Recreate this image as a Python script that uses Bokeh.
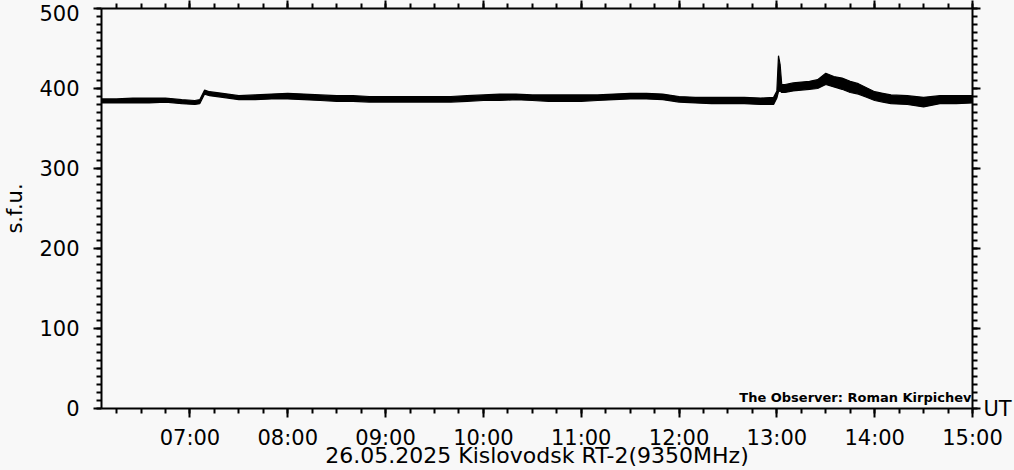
import pandas as pd
from bokeh.plotting import figure
from bokeh.models import (Range1d, FixedTicker, DatetimeTickFormatter, LinearAxis,
                          DatetimeAxis, Label, ColumnDataSource, GlobalInlineStyleSheet)
from bokeh.embed import file_html
from bokeh.resources import INLINE

DATE = "2025-05-26"
TITLE = "26.05.2025 Kislovodsk RT-2(9350MHz)"
Y_LABEL = "s.f.u."
X_UNIT = "UT"
OBSERVER = "The Observer: Roman Kirpichev"

# time (UT) and the lower / upper envelope of the noisy flux band (s.f.u.)
times = ["06:05", "06:15", "06:25", "06:35", "06:45", "06:55", "07:03", "07:06",
         "07:09", "07:12", "07:20", "07:30", "07:40", "07:50", "08:00", "08:10",
         "08:20", "08:30", "08:40", "08:50", "09:00", "09:10", "09:20", "09:30",
         "09:40", "09:50", "10:00", "10:10", "10:20", "10:30", "10:40", "10:50",
         "11:00", "11:10", "11:20", "11:30", "11:40", "11:50", "12:00", "12:10",
         "12:20", "12:30", "12:40", "12:50", "12:58", "13:00", "13:01", "13:02",
         "13:03", "13:05", "13:10", "13:20", "13:25", "13:30", "13:35", "13:40",
         "13:45", "13:50", "13:55", "14:00", "14:05", "14:10", "14:20", "14:30",
         "14:40", "14:50", "15:00"]
flux_lo = [382, 382, 382, 382, 383, 381, 380, 381,
           393, 391, 389, 386, 386, 387, 387, 386,
           385, 384, 384, 383, 383, 383, 383, 383,
           383, 384, 385, 385, 386, 385, 384, 384,
           384, 385, 386, 387, 387, 386, 383, 382,
           381, 381, 381, 380, 380, 388, 396, 397,
           395, 395, 397, 399, 400, 405, 402, 399,
           395, 393, 389, 385, 383, 381, 380, 377,
           381, 381, 382]
flux_hi = [387, 387, 388, 388, 388, 386, 385, 386,
           398, 396, 394, 391, 392, 393, 394, 393,
           392, 391, 391, 390, 390, 390, 390, 390,
           390, 391, 392, 393, 393, 392, 392, 392,
           392, 392, 393, 394, 394, 393, 390, 389,
           389, 389, 389, 388, 389, 397, 441, 430,
           405, 405, 407, 409, 411, 419, 415, 413,
           409, 406, 401, 396, 394, 392, 391, 389,
           391, 391, 391]

x_major_labels = ["07:00", "08:00", "09:00", "10:00", "11:00", "12:00", "13:00", "14:00", "15:00"]
y_major = [0, 100, 200, 300, 400, 500]

def ms(hm):
    return pd.Timestamp(f"{DATE} {hm}").value / 1e6

t = pd.to_datetime([f"{DATE} {s}" for s in times])
src = ColumnDataSource(dict(t=t, lo=flux_lo, hi=flux_hi))

x_start = ms("06:05:45")
x_end = ms("15:00:00")

x_major = [ms(s) for s in x_major_labels]
x_minor = [ms("06:00") + i * 15 * 60 * 1000 for i in range(0, 37)]
y_minor = list(range(0, 501, 10))

BG = "#f8f8f8"
FONT = "DejaVu Sans"

p = figure(width=1014, height=470, output_backend="svg", toolbar_location=None,
           x_axis_type="datetime", x_range=Range1d(x_start, x_end),
           y_range=Range1d(0, 500),
           min_border_left=96, min_border_right=41, min_border_top=8,
           min_border_bottom=61,
           background_fill_color=BG, border_fill_color=BG, outline_line_color=None)
p.stylesheets = [GlobalInlineStyleSheet(css="html,body{margin:0;padding:0;overflow:hidden;background:#f8f8f8;}")]
p.grid.visible = False

fmt = DatetimeTickFormatter(hours="%H:%M", minutes="%H:%M", hourmin="%H:%M",
                            minsec="%H:%M", days="%H:%M")

def style_axis(ax):
    ax.axis_line_width = 2
    ax.axis_line_color = "black"
    ax.major_tick_line_width = 2
    ax.minor_tick_line_width = 2
    ax.major_tick_line_color = "black"
    ax.minor_tick_line_color = "black"
    ax.major_tick_in = 0
    ax.minor_tick_in = 0
    ax.major_tick_out = 8
    ax.minor_tick_out = 5
    ax.major_label_text_font = FONT
    ax.major_label_text_font_size = "21px"
    ax.major_label_text_color = "black"
    ax.axis_label_text_font = FONT
    ax.axis_label_text_font_style = "normal"
    ax.axis_label_text_color = "black"

# bottom axis
xb = p.xaxis[0]
xb.ticker = FixedTicker(ticks=x_major, minor_ticks=x_minor)
xb.formatter = fmt
style_axis(xb)
xb.major_tick_out = 9
xb.major_label_standoff = 8
xb.axis_label = TITLE
xb.axis_label_text_font_size = "22px"
xb.axis_label_standoff = -10

# left axis
yl = p.yaxis[0]
yl.ticker = FixedTicker(ticks=y_major, minor_ticks=y_minor)
style_axis(yl)
yl.major_label_standoff = 14
yl.major_label_overrides = {500: "\n500"}
yl.major_label_text_line_height = 0.05
yl.axis_label = Y_LABEL
yl.axis_label_text_font_size = "21px"
yl.axis_label_standoff = 9

# top axis (ticks only)
xt = DatetimeAxis(ticker=FixedTicker(ticks=x_major, minor_ticks=x_minor), formatter=fmt)
style_axis(xt)
xt.major_label_overrides = {v: "" for v in x_major}
xt.major_label_text_font_size = "0px"
xt.major_label_standoff = 0
p.add_layout(xt, "above")

# right axis (ticks only, time unit written at the zero tick)
yr = LinearAxis(ticker=FixedTicker(ticks=y_major, minor_ticks=y_minor))
style_axis(yr)
yr.major_label_overrides = {v: (X_UNIT if v == 0 else "") for v in y_major}
yr.major_label_standoff = 3
p.add_layout(yr, "right")

# flux band
p.varea(x="t", y1="lo", y2="hi", source=src, fill_color="black")
p.line(x="t", y="lo", source=src, line_color="black", line_width=1.2)
p.line(x="t", y="hi", source=src, line_color="black", line_width=1.2)

p.add_layout(Label(x=x_end, y=4, text=OBSERVER, text_align="right",
                   text_baseline="bottom", x_offset=-1, text_font=FONT,
                   text_font_size="13px", text_font_style="bold", text_color="black"))

open("out.html", "w").write(file_html(p, INLINE))
